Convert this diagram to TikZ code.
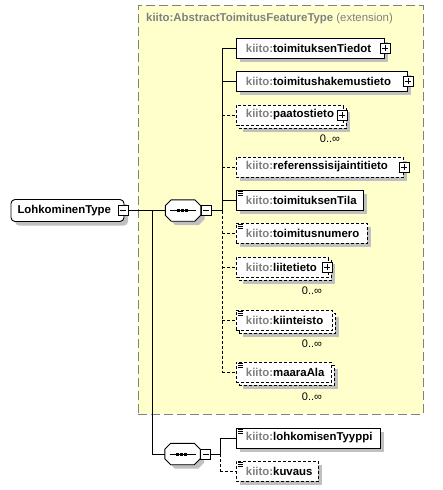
\documentclass[tikz,border=0pt]{standalone}
\usepackage{fontspec}
\setmainfont{Liberation Sans}
\usetikzlibrary{shadows}
\definecolor{kyellow}{RGB}{255,255,204}
\definecolor{kframe}{RGB}{128,128,128}
\definecolor{kshadow}{RGB}{192,192,192}
\definecolor{kpre}{RGB}{128,128,128}
\newcommand{\kiel}[2]{\makebox[#1][l]{{\color{kpre}kiito:}#2}}
\newcommand{\octpath}[1]{([xshift=6pt]#1.north west) -- ([xshift=-6pt]#1.north east) -- ([yshift=-6pt]#1.north east) -- ([yshift=6pt]#1.south east) -- ([xshift=-6pt]#1.south east) -- ([xshift=6pt]#1.south west) -- ([yshift=6pt]#1.south west) -- ([yshift=-6pt]#1.north west) -- cycle}
\newcommand{\seqdraw}[1]{%
  \fill[kshadow, transform canvas={shift={(4pt,-4pt)}}] \octpath{#1};
  \draw[line width=0.9pt, fill=white] \octpath{#1};
  \draw[line width=0.9pt] ([xshift=-13pt]#1.center) -- ([xshift=13pt]#1.center);
  \foreach \dx in {-6.5,-2.5,1.5} \fill ([xshift=\dx pt, yshift=-1.5pt]#1.center) rectangle ++(3pt,3pt);
}
\begin{document}
\begin{tikzpicture}[x=1pt,y=-1pt,
  txt/.style={font=\fontsize{11.4}{13}\selectfont\bfseries, text=black},
  shad/.style={drop shadow={shadow xshift=4pt, shadow yshift=-4pt, fill=kshadow, opacity=1}},
  el/.style={txt, rectangle, draw=black, fill=white, line width=0.9pt, minimum height=20pt, inner xsep=10pt, inner ysep=0pt, anchor=west},
  reqel/.style={el, shad},
  optel/.style={el, shad, dash pattern=on 3pt off 2pt},
  frontel/.style={el, dash pattern=on 3pt off 2pt},
  withicon/.style={path picture={\foreach \d in {1.5,3.5,5.5} \draw[solid, line width=0.8pt] ([shift={(2pt,-\d pt)}]path picture bounding box.north west) -- ++(5pt,0pt);}},
  pbox/.style={draw=black, fill=white, solid, line width=0.8pt, minimum size=10pt, inner sep=0pt,
     path picture={\draw[solid, line width=0.8pt] ([xshift=-3pt]path picture bounding box.center) -- ([xshift=3pt]path picture bounding box.center) ([yshift=-3pt]path picture bounding box.center) -- ([yshift=3pt]path picture bounding box.center);}},
  mbox/.style={draw=black, fill=white, solid, line width=0.8pt, minimum size=10pt, inner sep=0pt,
     path picture={\draw[solid, line width=0.8pt] ([xshift=-3pt]path picture bounding box.center) -- ([xshift=3pt]path picture bounding box.center);}},
  seqn/.style={rectangle, draw=none, minimum width=35pt, minimum height=21pt, inner sep=0pt},
  conn/.style={line width=0.9pt},
  optconn/.style={conn, dash pattern=on 3pt off 2pt},
  mult/.style={font=\fontsize{11}{13}\selectfont, inner sep=0pt}
]
\useasboundingbox (0,0) rectangle (442,490);
\fill[white] (0,0) rectangle (442,490);

% extension frame
\node[draw=kframe, fill=kyellow, line width=0.9pt, dash pattern=on 9pt off 4pt, minimum width=285pt, minimum height=409pt, anchor=north west, inner sep=0pt] (ext) at (138,5) {};
\node[anchor=west, inner sep=0pt, font=\fontsize{11.4}{13}\selectfont, text=kpre] (title) at (146,19) {\bfseries kiito:AbstractToimitusFeatureType \mdseries(extension)};

% root
\node[txt, rectangle, rounded corners=4pt, draw=black, fill=white, line width=0.9pt, shad, minimum width=113pt, minimum height=22pt, inner sep=0pt] (lohk) at (67.5,210.5) {\makebox[100pt][l]{LohkominenType}};
\node[mbox] (lohk-m) at ([xshift=-1pt]lohk.east) {};

% sequences
\node[seqn] (seq1) at (183,210.5) {};
\seqdraw{seq1}
\node[mbox, anchor=west] (seq1-m) at (seq1.east) {};
\node[seqn] (seq2) at (182.5,454) {};
\seqdraw{seq2}
\node[mbox, anchor=west] (seq2-m) at (seq2.east) {};

% elements of first sequence
\node[reqel, minimum width=148.5pt] (tiedot) at (235.5,48) {\kiel{128.5pt}{toimituksenTiedot}};
\node[pbox] (tiedot-p) at (tiedot.east) {};
\node[reqel, minimum width=171.5pt] (hakemus) at (235.5,81) {\kiel{151.5pt}{toimitushakemustieto}};
\node[pbox] (hakemus-p) at (hakemus.east) {};

\node[optel, minimum width=107.5pt] (paatos-b) at (238.5,118) {};
\node[frontel, minimum width=107.5pt] (paatos) at (235.5,115) {\kiel{87.5pt}{paatostieto}};
\node[pbox] (paatos-p) at ([xshift=-2pt]paatos.east) {};
\node[mult] (paatos-n) at (330,139) {0..∞};

\node[optel, minimum width=167.5pt] (referens) at (235.5,167) {\kiel{147.5pt}{referenssisijaintitieto}};
\node[pbox] (referens-p) at (referens.east) {};

\node[reqel, withicon, minimum width=127.5pt] (tila) at (235.5,200) {\kiel{107.5pt}{toimituksenTila}};
\node[optel, withicon, minimum width=131.5pt] (numero) at (235.5,233) {\kiel{111.5pt}{toimitusnumero}};

\node[optel, minimum width=92.5pt] (liite-b) at (238.5,270) {};
\node[frontel, minimum width=92.5pt] (liite) at (235.5,267) {\kiel{72.5pt}{liitetieto}};
\node[pbox] (liite-p) at ([xshift=-2pt]liite.east) {};
\node[mult] (liite-n) at (312,291) {0..∞};

\node[optel, minimum width=96.5pt] (kiint-b) at (238.5,323) {};
\node[frontel, withicon, minimum width=96.5pt] (kiint) at (235.5,320) {\kiel{76.5pt}{kiinteisto}};
\node[mult] (kiint-n) at (312,344) {0..∞};

\node[optel, minimum width=95.5pt] (maara-b) at (238.5,375) {};
\node[frontel, withicon, minimum width=95.5pt] (maara) at (235.5,372) {\kiel{75.5pt}{maaraAla}};
\node[mult] (maara-n) at (312,397) {0..∞};

% elements of second sequence
\node[reqel, withicon, minimum width=144.5pt] (tyyppi) at (235.5,438) {\kiel{124.5pt}{lohkomisenTyyppi}};
\node[optel, withicon, minimum width=82.5pt] (kuvaus) at (235.5,471) {\kiel{62.5pt}{kuvaus}};

% connectors
\coordinate (trunk) at (152,0);
\coordinate (v1) at (222,0);
\coordinate (v2) at (220,0);

\draw[conn] (lohk-m.east) -- (seq1.west);
\draw[conn] (trunk |- lohk-m.east) |- (seq2.west);

\draw[conn] (seq1-m.east) -- (v1 |- seq1-m.east);
\draw[conn] (v1 |- tiedot.west) -- (v1 |- seq1-m.east);
\draw[optconn] (v1 |- seq1-m.east) -- (v1 |- maara.west);
\draw[conn] (v1 |- tiedot.west) -- (tiedot.west);
\draw[conn] (v1 |- hakemus.west) -- (hakemus.west);
\draw[optconn] (v1 |- paatos.west) -- (paatos.west);
\draw[optconn] (v1 |- referens.west) -- (referens.west);
\draw[conn] (v1 |- tila.west) -- (tila.west);
\draw[optconn] (v1 |- numero.west) -- (numero.west);
\draw[optconn] (v1 |- liite.west) -- (liite.west);
\draw[optconn] (v1 |- kiint.west) -- (kiint.west);
\draw[optconn] (v1 |- maara.west) -- (maara.west);

\draw[conn] (seq2-m.east) -- (v2 |- seq2-m.east);
\draw[conn] (v2 |- tyyppi.west) -- (v2 |- seq2-m.east);
\draw[optconn] (v2 |- seq2-m.east) -- (v2 |- kuvaus.west);
\draw[conn] (v2 |- tyyppi.west) -- (tyyppi.west);
\draw[optconn] (v2 |- kuvaus.west) -- (kuvaus.west);
\end{tikzpicture}
\end{document}
